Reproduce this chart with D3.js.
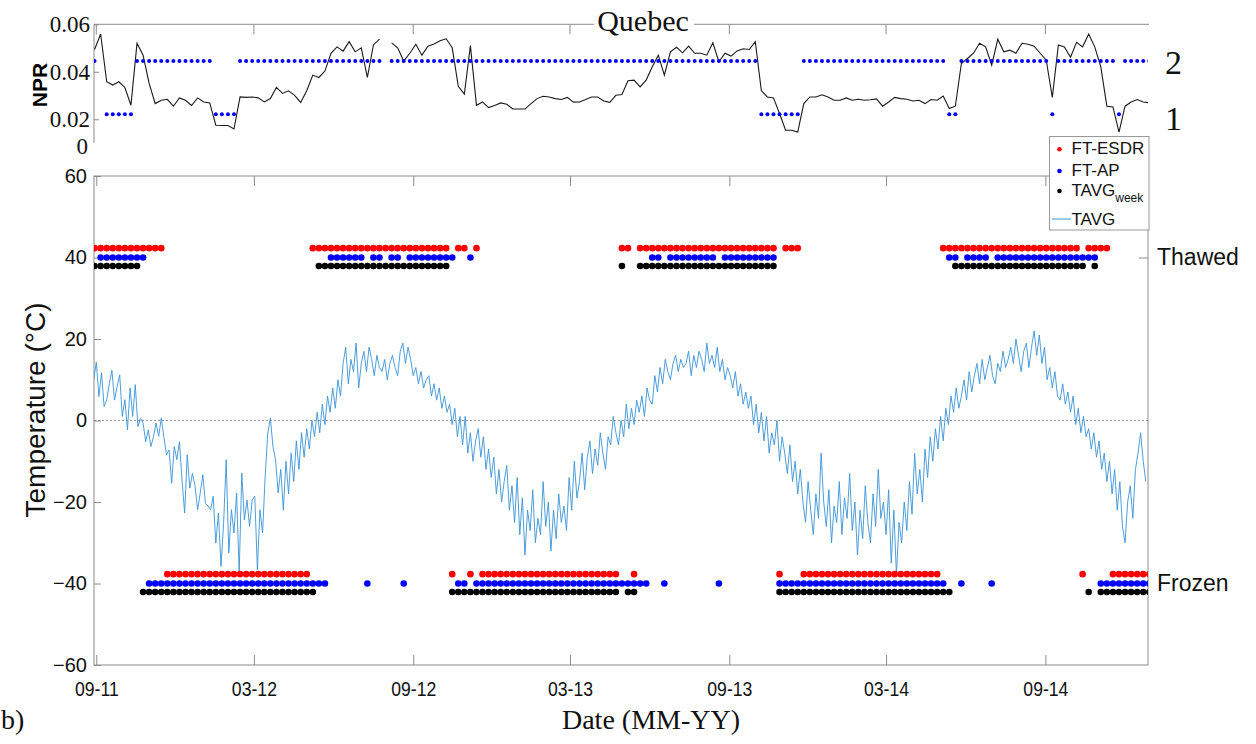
<!DOCTYPE html>
<html>
<head>
<meta charset="utf-8">
<title>Quebec</title>
<script src="https://cdn.jsdelivr.net/npm/d3@7"></script>
<style>
body { margin: 0; background: #fff; }
.serif { font-family: "Liberation Serif", "DejaVu Serif", serif; }
.sans { font-family: "Liberation Sans", Arial, sans-serif; }
</style>
</head>
<body>
<svg width="1256" height="744"></svg>
<script>
// ---- data ----
// weekly series, week 0 = 2011-08-30
var weekStart = new Date(2011, 7, 30);

var npr = [0.0494,0.0559,0.0358,0.0344,0.0358,0.0334,0.0259,0.0520,0.0470,0.0351,
  0.0266,0.0280,0.0284,0.0255,0.0290,0.0280,0.0258,0.0290,0.0273,0.0269,
  0.0175,0.0174,0.0174,0.0159,0.0294,0.0292,0.0294,0.0290,0.0273,0.0287,
  0.0334,0.0309,0.0320,0.0301,0.0271,0.0320,0.0386,0.0376,0.0403,0.0478,
  0.0505,0.0487,0.0527,0.0484,0.0501,0.0376,0.0513,0.0538,null,0.0522,
  0.0501,0.0445,0.0478,0.0516,0.0470,0.0508,0.0517,0.0531,0.0539,0.0501,
  0.0339,0.0306,0.0510,0.0259,0.0273,0.0249,0.0258,0.0269,0.0263,0.0243,
  0.0243,0.0243,0.0266,0.0287,0.0297,0.0294,0.0287,0.0283,0.0292,0.0272,
  0.0273,0.0283,0.0294,0.0294,0.0277,0.0271,0.0301,0.0304,0.0362,0.0365,
  0.0336,0.0365,0.0421,0.0470,0.0386,0.0484,0.0503,0.0480,0.0508,0.0478,
  0.0478,0.0470,0.0522,0.0442,0.0478,0.0466,0.0488,0.0497,0.0494,0.0527,
  0.0320,0.0294,0.0290,0.0224,0.0154,0.0154,0.0146,0.0266,0.0294,0.0294,
  0.0303,0.0294,0.0280,0.0280,0.0290,0.0280,0.0284,0.0280,0.0282,0.0286,
  0.0255,0.0273,0.0292,0.0287,0.0284,0.0277,0.0280,0.0266,0.0283,0.0280,
  0.0298,0.0245,0.0255,0.0435,0.0456,0.0478,0.0520,0.0505,0.0428,0.0537,
  0.0484,0.0491,0.0478,0.0520,0.0516,0.0508,0.0478,0.0449,0.0292,0.0513,
  0.0505,0.0461,0.0524,0.0505,0.0559,0.0505,0.0421,0.0255,0.0252,0.0146,
  0.0255,0.0273,0.0283,0.0273,0.0269];

// NPR class per week: "2", "1", "." = none
var nprClass = ["2.11111222","2222222222","1111222222","2222222222","22222222.2",
  "2222222222","2222222222","2222222222","2222222222","2222222222",
  "2222222222","1111111222","2222222222","2222222222","2112222222",
  "2222222212","2222222221","22222"].join("");

// freeze/thaw state per week: T = thawed, F = frozen, . = none
var esdr = ["TTTTTTTTTT","TTFFFFFFFF","FFFFFFFFFF","FFFFFFTTTT","TTTTTTTTTT",
  "TTTTTTTTTF","TTFTFFFFFF","FFFFFFFFFF","FFFFFFFTTF","TTTTTTTTTT",
  "TTTTTTTTTT","TTTFTTTFFF","FFFFFFFFFF","FFFFFFFFFF","TTTTTTTTTT",
  "TTTTTTTTTT","TTTFTTTTFF","FFFFF"].join("");
var ftap = [".TTTTTTTTF","FFFFFFFFFF","FFFFFFFFFF","FFFFFFFFFT","TTTTTFTT.T",
  "TFTTTTTTTT","FFTFFFFFFF","FFFFFFFFFF","FFFFFFFFFF","FFTTFTTTTT",
  "TTTFTTTTTT","TTTFFFFFFF","FFFFFFFFFF","FFFFFFFFFF","FTTFTTTTFT",
  "TTTTTTTTTT","TTTTTTFFFF","FFFFF"].join("");
var tavgWeek = ["TTTTTTTTFF","FFFFFFFFFF","FFFFFFFFFF","FFFFFFFTTT","TTTTTTTTTT",
  "TTTTTTTTTF","FFFFFFFFFF","FFFFFFFFFF","FFFFFFFTFF","TTTTTTTTTT",
  "TTTTTTTTTT","TTTFFFFFFF","FFFFFFFFFF","FFFFFFFFFF","FFTTTTTTTT",
  "TTTTTTTTTT","TTTTFTFFFF","FFFFF"].join("");

// air temperature (deg C), every 3 days from 2011-08-29
var tavgStart = new Date(2011, 7, 29);
var tavgStep = 3;
var tavg = [10,14.3,5.9,11.7,3.4,5.1,9,12.3,5,8.3,
  11.2,1,5.1,-2.3,8,1,8.8,-1.5,0.5,-0.6,
  -5.2,-2.3,-6.4,-4,-0.6,-3.9,0.6,-4,-8.4,-7.2,
  -15.4,-6.4,-9.6,-5.2,-14.6,-22.7,-8.4,-16.6,-13,-16,
  -21.9,-17.8,-13.3,-20.3,-21,-21.9,-18.6,-30.1,-22.7,-35.8,
  -25.2,-9.6,-32.5,-21.9,-27.6,-17.8,-37.4,-12.9,-24.4,-19.5,
  -26,-19.5,-18.6,-36.6,-21.9,-27.6,-13.7,-3.1,0.6,-6.4,
  -9.6,-17.8,
  -12,-22,-10,-18,-8,-15,-5,-12,-3,-9,
  -2,-7,0,-4,2,-3,4,-1,6,2,
  8,3,10,6,14,18,9,15,12,19,
  8,14,17,12,18,15,11,16,13,12,
  15,10,14,16,13,11,17,19,14,18,
  15,11,13,9,12,8,10,11,6,9,
  5,8,3,6,2,4,-1,3,-4,1,
  -6,1,-8,-3,-10,-5,-2,-9,-4,-12,
  -7,-14,-9,-18,-12,-20,-15,-11,-22,-16,
  -25,-14,-28,-19,-33,-22,-27,-17,-30,-24,
  -28,-15,-26,-20,-32,-22,-29,-18,-25,-21,
  -27,-14,-22,-10,-19,-15,-8,-17,-9,-5,
  -13,-7,-11,-3,-8,-12,-4,-6,1,-3,
  -6,0,-4,4,-2,3,-1,5,2,6,
  1,8,5,4,11,7,13,9,15,12,
  10,14,16,12,15,13,14,17,11,16,
  13,17,15,12,19,14,16,13,18,12,
  15,10,13,11,8,12,6,9,4,7,
  3,6,-1,4,-3,2,-5,1,-8,-3,
  -6,0,-10,-4,-8,-13,-6,-15,-10,-18,
  -12,-20,-25,-15,-22,-28,-18,-24,-8,-20,
  -26,-17,-30,-21,-25,-15,-28,-19,-24,-13,
  -27,-20,-33,-22,-29,-16,-25,-30,-18,-26,
  -12,-24,-20,-28,-17,-35,-22,-38,-25,-30,
  -20,-27,-15,-23,-8,-18,-12,-20,-7,-14,
  -4,-10,-2,-7,1,-5,3,-1,6,2,
  8,3,6,10,5,12,7,11,14,9,
  15,10,13,16,11,9,14,12,17,13,
  15,18,14,20,16,12,17,19,13,18,
  22,16,21,14,18,10,13,8,12,6,
  5,9,4,7,2,6,-1,3,-3,1,
  -4,-2,-7,-3,-9,-5,-12,-8,-15,-10,
  -18,-12,-22,-15,-26,-30,-20,-16,-24,-12,
  -8,-3,-10,-15];

var tickDates = ["2011-09-01","2012-03-01","2012-09-01","2013-03-01","2013-09-01","2014-03-01","2014-09-01"];
var tempTicks = [-60,-40,-20,0,20,40,60];
var nprTicks = [0.02,0.04,0.06];

// ---- layout ----
var svg = d3.select("svg");
var left = 94, right = 1148;
var top1 = 24.3, bot1 = 143;
var top2 = 176, bot2 = 665;
var grey = "#8c8c8c";

var x = d3.scaleTime()
    .domain([new Date(2011, 7, 29, 8), new Date(2014, 11, 28, 12)])
    .range([left, right]);
var yN = d3.scaleLinear().domain([0.01, 0.06]).range([bot1, top1]);
var yC = d3.scaleLinear().domain([1, 2]).range([114.3, 61]);
var yT = d3.scaleLinear().domain([-60, 60]).range([bot2, top2]);

var parse = d3.timeParse("%Y-%m-%d");
var ticks = tickDates.map(parse);
var fmt = d3.timeFormat("%m-%y");
function weekDate(i) { return d3.timeDay.offset(weekStart, 7 * i); }

var defs = svg.append("defs");
defs.append("clipPath").attr("id", "c1").append("rect")
    .attr("x", left).attr("y", 0).attr("width", right - left).attr("height", bot1 + 6);
defs.append("clipPath").attr("id", "c2").append("rect")
    .attr("x", left).attr("y", top2).attr("width", right - left).attr("height", bot2 - top2);

// ===== top panel =====
var g1 = svg.append("g");
g1.append("line").attr("x1", left).attr("x2", right + 1).attr("y1", top1).attr("y2", top1)
    .attr("stroke", grey);
ticks.forEach(function(d) {
  g1.append("line").attr("x1", x(d)).attr("x2", x(d)).attr("y1", top1).attr("y2", top1 + 10)
      .attr("stroke", grey);
});
var axN = g1.append("g").attr("transform", "translate(" + left + ",0)")
    .call(d3.axisLeft(yN).tickValues(nprTicks).tickSize(-5).tickPadding(4).tickFormat(d3.format(".2f")));
axN.select(".domain").attr("stroke", grey).attr("d", "M0," + top1 + "V" + bot1);
axN.selectAll(".tick line").attr("stroke", grey);
axN.selectAll("text").attr("class", "serif").attr("font-size", 23).attr("fill", "#111");
g1.append("text").attr("class", "serif").attr("x", left - 6).attr("y", bot1 + 3)
    .attr("text-anchor", "end").attr("dy", "0.35em").attr("font-size", 23).attr("fill", "#111").text("0");
g1.append("text").attr("class", "sans").attr("font-weight", "bold").attr("font-size", 21)
    .attr("transform", "translate(47,85) rotate(-90)").attr("text-anchor", "middle").text("NPR");

var c1 = g1.append("g").attr("clip-path", "url(#c1)");
var nprLine = d3.line()
    .defined(function(d) { return d != null; })
    .x(function(d, i) { return x(weekDate(i)); })
    .y(function(d) { return yN(d); });
c1.append("path").datum(npr).attr("d", nprLine)
    .attr("fill", "none").attr("stroke", "#1a1a1a").attr("stroke-width", 1.1);

var clsPts = [];
for (var i = 0; i < nprClass.length; i++) {
  if (nprClass[i] !== ".") clsPts.push({ t: weekDate(i), c: +nprClass[i] });
}
c1.selectAll(".cls").data(clsPts).enter().append("circle")
    .attr("cx", function(d) { return x(d.t); })
    .attr("cy", function(d) { return yC(d.c); })
    .attr("r", 2).attr("fill", "#0000ff");

var axC = g1.append("g").attr("transform", "translate(" + (right + 14) + ",0)")
    .call(d3.axisRight(yC).tickValues([1, 2]).tickSize(0).tickFormat(d3.format("d")));
axC.select(".domain").remove();
axC.selectAll("text").attr("class", "serif").attr("font-size", 34).attr("fill", "#111")
    .attr("dy", function(d) { return d === 1 ? "0.45em" : "0.38em"; });

// title
svg.append("rect").attr("x", 594).attr("y", 8).attr("width", 100).attr("height", 30).attr("fill", "#fff");
svg.append("text").attr("class", "serif").attr("x", 643).attr("y", 31).attr("text-anchor", "middle")
    .attr("font-size", 30).attr("fill", "#111").text("Quebec");

// ===== bottom panel =====
var g2 = svg.append("g");
g2.append("rect").attr("x", left).attr("y", top2).attr("width", right - left).attr("height", bot2 - top2)
    .attr("fill", "none").attr("stroke", grey);

var axY = g2.append("g").attr("transform", "translate(" + left + ",0)")
    .call(d3.axisLeft(yT).tickValues(tempTicks).tickSize(-7).tickPadding(7));
axY.select(".domain").remove();
axY.selectAll(".tick line").attr("stroke", grey);
axY.selectAll("text").attr("class", "sans").attr("font-size", 20).attr("fill", "#111");

var axR = g2.append("g").attr("transform", "translate(" + right + ",0)")
    .call(d3.axisRight(yT).tickValues([40, -40]).tickSize(-9).tickPadding(9)
      .tickFormat(function(d) { return d > 0 ? "Thawed" : "Frozen"; }));
axR.select(".domain").remove();
axR.selectAll(".tick line").attr("stroke", grey);
axR.selectAll("text").attr("class", "sans").attr("font-size", 23).attr("fill", "#111");

var axB = g2.append("g").attr("transform", "translate(0," + bot2 + ")")
    .call(d3.axisBottom(x).tickValues(ticks).tickSize(-10).tickPadding(16).tickFormat(fmt));
axB.select(".domain").remove();
axB.selectAll(".tick line").attr("stroke", grey);
axB.selectAll("text").attr("class", "sans").attr("font-size", 21).attr("fill", "#111")
    .attr("transform", "scale(0.84,1)");

var axT = g2.append("g").attr("transform", "translate(0," + top2 + ")")
    .call(d3.axisTop(x).tickValues(ticks).tickSize(-10).tickFormat(""));
axT.select(".domain").remove();
axT.selectAll(".tick line").attr("stroke", grey);

var c2 = g2.append("g").attr("clip-path", "url(#c2)");
c2.append("line").attr("x1", left).attr("x2", right).attr("y1", yT(0)).attr("y2", yT(0))
    .attr("stroke", "#777").attr("stroke-width", 0.8).attr("stroke-dasharray", "2,2");

var tLine = d3.line()
    .x(function(d, i) { return x(d3.timeDay.offset(tavgStart, tavgStep * i)); })
    .y(function(d) { return yT(d); });
c2.append("path").datum(tavg).attr("d", tLine)
    .attr("fill", "none").attr("stroke", "#3a93d6").attr("stroke-width", 0.9);

var series = [
  { name: "FT-ESDR", states: esdr, off: 2.3, color: "#ff0000" },
  { name: "FT-AP", states: ftap, off: 0, color: "#0000ff" },
  { name: "TAVGweek", states: tavgWeek, off: -2.1, color: "#000000" }
];
series.forEach(function(s) {
  var pts = [];
  for (var i = 0; i < s.states.length; i++) {
    var c = s.states[i];
    if (c === "T") pts.push({ t: weekDate(i), v: 40 + s.off });
    if (c === "F") pts.push({ t: weekDate(i), v: -40 + s.off });
  }
  c2.append("g").selectAll("circle").data(pts).enter().append("circle")
      .attr("cx", function(d) { return x(d.t); })
      .attr("cy", function(d) { return yT(d.v); })
      .attr("r", 3.3).attr("fill", s.color);
});

// axis titles
svg.append("text").attr("class", "sans").attr("font-size", 28).attr("text-anchor", "middle")
    .attr("transform", "translate(45,410) rotate(-90)").attr("fill", "#111").text("Temperature (\u00b0C)");
svg.append("text").attr("class", "serif").attr("font-size", 28).attr("text-anchor", "middle")
    .attr("x", 651).attr("y", 729).attr("fill", "#111").text("Date (MM-YY)");
svg.append("text").attr("class", "serif").attr("font-size", 28)
    .attr("x", 1).attr("y", 729).attr("fill", "#111").text("b)");

// legend
var lg = svg.append("g");
lg.append("rect").attr("x", 1049.5).attr("y", 136.5).attr("width", 99.5).attr("height", 93.5)
    .attr("fill", "#fff").attr("stroke", "#999");
var items = [
  { label: "FT-ESDR", color: "#ff0000", y: 148.3 },
  { label: "FT-AP", color: "#0000ff", y: 170 },
  { label: "TAVG", sub: "week", color: "#000", y: 190 }
];
items.forEach(function(it) {
  lg.append("circle").attr("cx", 1059.5).attr("cy", it.y + 1).attr("r", 2.3).attr("fill", it.color);
  var t = lg.append("text").attr("class", "sans").attr("font-size", 17).attr("x", 1071.5)
      .attr("y", it.y).attr("dy", "0.36em").attr("fill", "#111").text(it.label);
  if (it.sub) t.append("tspan").attr("font-size", 12).attr("dy", 6).text(it.sub);
});
lg.append("line").attr("x1", 1052).attr("x2", 1071).attr("y1", 219).attr("y2", 219)
    .attr("stroke", "#3a93d6").attr("stroke-width", 1);
lg.append("text").attr("class", "sans").attr("font-size", 17).attr("x", 1071.5).attr("y", 219)
    .attr("dy", "0.36em").attr("fill", "#111").text("TAVG");
</script>
</body>
</html>
